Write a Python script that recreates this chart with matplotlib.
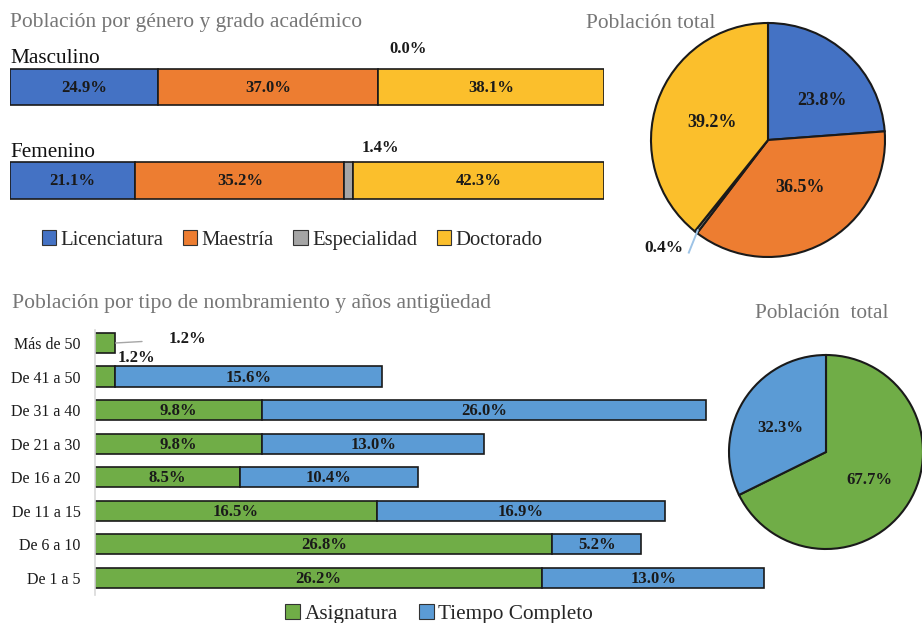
import matplotlib
matplotlib.use("Agg")
import matplotlib.pyplot as plt
from matplotlib.patches import Patch
import numpy as np

W, H = 922, 623
plt.rcParams['font.family'] = ['Liberation Serif', 'DejaVu Serif']

# ---------------- data ----------------
genders = ['Masculino', 'Femenino']
grades = ['Licenciatura', 'Maestría', 'Especialidad', 'Doctorado']
licenciatura = [24.9, 21.1]
maestria = [37.0, 35.2]
especialidad = [0.0, 1.4]
doctorado = [38.1, 42.3]

pie1_labels = ['Licenciatura', 'Maestría', 'Especialidad', 'Doctorado']
pie1_values = [23.8, 36.5, 0.4, 39.2]

ranges = ['Más de 50', 'De 41 a 50', 'De 31 a 40', 'De 21 a 30',
          'De 16 a 20', 'De 11 a 15', 'De 6 a 10', 'De 1 a 5']
asignatura = [1.2, 1.2, 9.8, 9.8, 8.5, 16.5, 26.8, 26.2]
tiempo_completo = [0.0, 15.6, 26.0, 13.0, 10.4, 16.9, 5.2, 13.0]

pie2_labels = ['Asignatura', 'Tiempo Completo']
pie2_values = [67.7, 32.3]

# ---------------- styles ----------------
C_BLUE = '#4472C4'
C_ORANGE = '#ED7D31'
C_GRAY = '#A5A5A5'
C_YELLOW = '#FBBF2C'
C_GREEN = '#70AD47'
C_LBLUE = '#5B9BD5'
TITLE_C = '#767676'
EDGE = '#1a1a1a'
TXT = '#1a1a1a'


def rect(l, t, r, b):
    return [l / W, 1 - b / H, (r - l) / W, (b - t) / H]


fig = plt.figure(figsize=(W / 100, H / 100), dpi=100)

# ---------------- top bar chart ----------------
ax1 = fig.add_axes(rect(10, 40, 604, 215))
ax1.set_xlim(0, 100)
ax1.set_ylim(1.369, -0.503)
ax1.axis('off')
ypos = list(range(len(genders)))
bh = 0.39
left = [0.0] * len(genders)
series1 = [licenciatura, maestria, especialidad, doctorado]
cols1 = [C_BLUE, C_ORANGE, C_GRAY, C_YELLOW]
small_offsets = [(22, 14), (23, 10)]
for name, vals, c in zip(grades, series1, cols1):
    ax1.barh(ypos, vals, left=left, height=bh, color=c, edgecolor=EDGE,
             linewidth=1.2, label=name)
    for i, v in enumerate(vals):
        cx = left[i] + v / 2
        if name == 'Especialidad':
            ax1.annotate(f'{v:.1f}%', xy=(cx, i - bh / 2), xytext=small_offsets[i],
                         textcoords='offset points', ha='center', va='center',
                         fontsize=12, fontweight='bold', color=TXT)
        else:
            ax1.text(cx, i + 0.01, f'{v:.1f}%', ha='center', va='center',
                     fontsize=12, fontweight='bold', color=TXT)
    left = [l + v for l, v in zip(left, vals)]
for i, g in enumerate(genders):
    ax1.text(0, i - bh / 2 - 0.005, g, ha='left', va='bottom', fontsize=15.3,
             color='#111111')

fig.text(10 / W, 1 - 23 / H, 'Población por género y grado académico',
         ha='left', va='center', fontsize=15.5, color=TITLE_C)

handles1 = [Patch(facecolor=c, edgecolor='#333333', linewidth=0.8) for c in cols1]
fig.legend(handles1, grades, loc='center', bbox_to_anchor=(292 / W, 1 - 240 / H),
           ncol=4, frameon=False, fontsize=14.9, handlelength=0.7,
           handleheight=0.7, handletextpad=0.2, columnspacing=0.95,
           labelcolor='#262626')

# ---------------- top pie ----------------
R1 = 117
S = 1.35
cx1, cy1 = 768, 140
axp1 = fig.add_axes(rect(cx1 - R1 * S, cy1 - R1 * S, cx1 + R1 * S, cy1 + R1 * S))
wedges, texts, autotexts = axp1.pie(
    pie1_values, colors=cols1, startangle=90, counterclock=False,
    autopct='%.1f%%', pctdistance=0.55,
    wedgeprops=dict(edgecolor=EDGE, linewidth=1.5),
    textprops=dict(fontsize=13, fontweight='bold', color=TXT))
axp1.set_xlim(-S, S)
axp1.set_ylim(-S, S)
axp1.set_aspect('equal')
axp1.axis('off')
autotexts[2].set_visible(False)
w = wedges[2]
ang = np.deg2rad((w.theta1 + w.theta2) / 2)
x0, y0 = 0.97 * np.cos(ang), 0.97 * np.sin(ang)
axp1.plot([x0, -0.68], [y0, -0.97], color='#9DC3E6', lw=1.4,
          solid_capstyle='butt', zorder=5)
axp1.text(-0.72, -0.92, f'{pie1_values[2]:.1f}%', ha='right', va='center',
          fontsize=12.5, fontweight='bold', color=TXT)
autotexts[0].set_position((0.46, 0.34))
autotexts[1].set_position((0.27, -0.41))
autotexts[3].set_position((-0.48, 0.15))

fig.text(586 / W, 1 - 23 / H, 'Población total', ha='left', va='center',
         fontsize=15.4, color=TITLE_C)

# ---------------- bottom bar chart ----------------
ppu = 17.07
ax2 = fig.add_axes(rect(95, 330, 95 + 40 * ppu, 595))
ax2.set_xlim(0, 40)
ax2.set_ylim(7.507, -0.387)
yp = list(range(len(ranges)))
bh2 = 0.6
ax2.barh(yp, asignatura, height=bh2, color=C_GREEN, edgecolor=EDGE,
         linewidth=1.2, label='Asignatura')
ax2.barh(yp, tiempo_completo, left=asignatura, height=bh2, color=C_LBLUE,
         edgecolor=[EDGE if v > 0 else (0, 0, 0, 0) for v in tiempo_completo],
         linewidth=1.2, label='Tiempo Completo')
for i, (a, t) in enumerate(zip(asignatura, tiempo_completo)):
    kw = dict(fontsize=12, fontweight='bold', color=TXT)
    if a < 3:
        if i == 0:
            ax2.annotate(f'{a:.1f}%', xy=(a, i), xytext=(a + 4.2, i - 0.12),
                         ha='center', va='center',
                         arrowprops=dict(arrowstyle='-', color='#A6A6A6',
                                         lw=1.0, shrinkA=17, shrinkB=0), **kw)
        else:
            ax2.text(a + 1.2, i - 0.55, f'{a:.1f}%', ha='center',
                     va='center', **kw)
    else:
        ax2.text(a / 2, i + 0.03, f'{a:.1f}%', ha='center', va='center', **kw)
    if t > 0:
        ax2.text(a + t / 2, i + 0.03, f'{t:.1f}%', ha='center', va='center', **kw)
ax2.set_yticks(yp)
ax2.set_yticklabels(ranges, fontsize=11.5, color=TXT)
ax2.tick_params(axis='y', length=0, pad=10.5)
ax2.set_xticks([])
for s in ['top', 'right', 'bottom']:
    ax2.spines[s].set_visible(False)
ax2.spines['left'].set_color('#D9D9D9')
ax2.spines['left'].set_linewidth(1.2)

fig.text(12 / W, 1 - 304 / H,
         'Población por tipo de nombramiento y años antigüedad',
         ha='left', va='center', fontsize=15.6, color=TITLE_C)

handles2 = [Patch(facecolor=C_GREEN, edgecolor='#333333', linewidth=0.8),
            Patch(facecolor=C_LBLUE, edgecolor='#333333', linewidth=0.8)]
fig.legend(handles2, pie2_labels, loc='center', bbox_to_anchor=(439 / W, 1 - 614 / H),
           ncol=2, frameon=False, fontsize=15.3, handlelength=0.7,
           handleheight=0.7, handletextpad=0.2, columnspacing=1.0,
           labelcolor='#262626')

# ---------------- bottom pie ----------------
R2 = 97
cx2, cy2 = 826, 452
axp2 = fig.add_axes(rect(cx2 - R2 * 1.05, cy2 - R2 * 1.05, cx2 + R2 * 1.05, cy2 + R2 * 1.05))
w2, t2, at2 = axp2.pie(
    pie2_values, colors=[C_GREEN, C_LBLUE], startangle=90, counterclock=False,
    autopct='%.1f%%', pctdistance=0.55,
    wedgeprops=dict(edgecolor=EDGE, linewidth=1.5),
    textprops=dict(fontsize=12, fontweight='bold', color=TXT))
axp2.set_xlim(-1.05, 1.05)
axp2.set_ylim(-1.05, 1.05)
axp2.set_aspect('equal')
axp2.axis('off')
at2[0].set_position((0.45, -0.29))
at2[1].set_position((-0.47, 0.25))

fig.text(755 / W, 1 - 313 / H, 'Población  total', ha='left', va='center',
         fontsize=15.3, color=TITLE_C)

fig.savefig('out.png', dpi=100)
